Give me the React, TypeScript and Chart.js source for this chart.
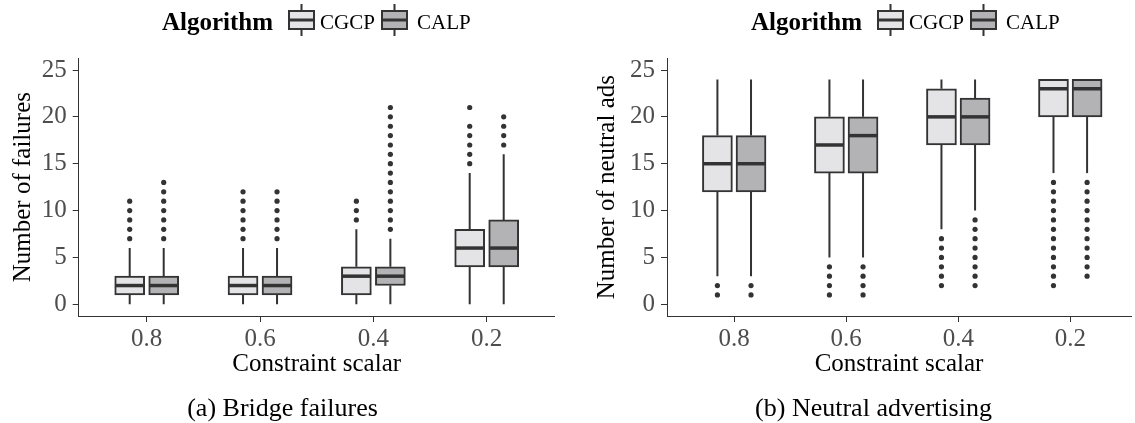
import React, { useEffect, useRef } from 'react';
import { Chart, registerables } from 'chart.js';

Chart.register(...registerables);

// ---------- data ----------
const categories = ['0.8', '0.6', '0.4', '0.2'];
const seriesNames = ['CGCP', 'CALP'];
const yTickValues = [0, 5, 10, 15, 20, 25];

// (a) Bridge failures — CGCP
const failCgcpLow = [0, 0, 0, 0];
const failCgcpQ1 = [1, 1, 1, 4];
const failCgcpMed = [2, 2, 3, 6];
const failCgcpQ3 = [3, 3, 4, 8];
const failCgcpHigh = [6, 6, 8, 14];
const failCgcpOut = [
  [7, 8, 9, 10, 11],
  [7, 8, 9, 10, 11, 12],
  [9, 10, 11],
  [15, 16, 17, 18, 19, 21],
];
// (a) Bridge failures — CALP
const failCalpLow = [0, 0, 0, 0];
const failCalpQ1 = [1, 1, 2, 4];
const failCalpMed = [2, 2, 3, 6];
const failCalpQ3 = [3, 3, 4, 9];
const failCalpHigh = [6, 6, 7, 16];
const failCalpOut = [
  [7, 8, 9, 10, 11, 12, 13],
  [7, 8, 9, 10, 11, 12],
  [8, 9, 10, 11, 12, 13, 14, 15, 16, 17, 18, 19, 20, 21],
  [17, 18, 19, 20],
];

// (b) Neutral advertising — CGCP
const adsCgcpLow = [3, 5, 8, 14];
const adsCgcpQ1 = [12, 14, 17, 20];
const adsCgcpMed = [15, 17, 20, 23];
const adsCgcpQ3 = [18, 20, 23, 24];
const adsCgcpHigh = [24, 24, 24, 24];
const adsCgcpOut = [
  [1, 2],
  [1, 2, 3, 4],
  [2, 3, 4, 5, 6, 7],
  [2, 3, 4, 5, 6, 7, 8, 9, 10, 11, 12, 13],
];
// (b) Neutral advertising — CALP
const adsCalpLow = [3, 5, 10, 14];
const adsCalpQ1 = [12, 14, 17, 20];
const adsCalpMed = [15, 18, 20, 23];
const adsCalpQ3 = [18, 20, 22, 24];
const adsCalpHigh = [24, 24, 24, 24];
const adsCalpOut = [
  [1, 2],
  [1, 2, 3, 4],
  [2, 3, 4, 5, 6, 7, 8, 9],
  [3, 4, 5, 6, 7, 8, 9, 10, 11, 12, 13],
];

// ---------- styling ----------
const FONT = "'Liberation Serif', 'Times New Roman', serif";
const FILLS = ['#e4e4e6', '#b3b3b5'];
const DARK = '#333333';
const OFFSETS = [-0.15, 0.15];
const BOX_W = 30;

type Stats = { low: number[]; q1: number[]; med: number[]; q3: number[]; high: number[]; out: number[][] };

type PanelOpts = {
  yTitle: string;
  caption: string;
  stats: Stats[];
  yAxisWidth: number;
  rightPad: number;
  xMax: number;
  yTitlePad: number;
  legendX: number;
  captionX: number;
};

function makeChart(canvas: HTMLCanvasElement, p: PanelOpts) {
  const datasets: any[] = [];
  p.stats.forEach((s, k) => {
    datasets.push({
      type: 'bar',
      label: seriesNames[k],
      data: categories.map((_, i) => ({ x: i + OFFSETS[k], y: [s.q1[i], s.q3[i]] })),
      backgroundColor: FILLS[k],
      borderColor: DARK,
      borderWidth: 2,
      borderSkipped: false,
      barThickness: BOX_W,
      grouped: false,
      order: 2,
    });
    datasets.push({
      type: 'scatter',
      label: seriesNames[k] + ' outliers',
      data: s.out.flatMap((arr, i) => arr.map((v) => ({ x: i + OFFSETS[k], y: v }))),
      pointRadius: 2.6,
      pointBackgroundColor: DARK,
      pointBorderWidth: 0,
      showLine: false,
      order: 1,
    });
  });

  const boxParts = {
    id: 'boxParts',
    beforeDatasetsDraw(chart: any) {
      const { ctx, scales } = chart;
      const xs = scales.x, ys = scales.y;
      ctx.save();
      ctx.strokeStyle = DARK;
      ctx.lineWidth = 2;
      p.stats.forEach((s, k) => {
        categories.forEach((_, i) => {
          const x = xs.getPixelForValue(i + OFFSETS[k]);
          ctx.beginPath();
          if (s.low[i] < s.q1[i]) {
            ctx.moveTo(x, ys.getPixelForValue(s.low[i]));
            ctx.lineTo(x, ys.getPixelForValue(s.q1[i]));
          }
          if (s.high[i] > s.q3[i]) {
            ctx.moveTo(x, ys.getPixelForValue(s.q3[i]));
            ctx.lineTo(x, ys.getPixelForValue(s.high[i]));
          }
          ctx.stroke();
        });
      });
      ctx.restore();
    },
    afterDatasetsDraw(chart: any) {
      const { ctx, scales } = chart;
      const xs = scales.x, ys = scales.y;
      ctx.save();
      ctx.strokeStyle = DARK;
      ctx.lineWidth = 3.5;
      p.stats.forEach((s, k) => {
        categories.forEach((_, i) => {
          const x = xs.getPixelForValue(i + OFFSETS[k]);
          const y = ys.getPixelForValue(s.med[i]);
          ctx.beginPath();
          ctx.moveTo(x - BOX_W / 2 + 1, y);
          ctx.lineTo(x + BOX_W / 2 - 1, y);
          ctx.stroke();
        });
      });
      ctx.restore();
    },
    afterDraw(chart: any) {
      const { ctx } = chart;
      ctx.save();
      // legend
      const x0 = p.legendX;
      ctx.fillStyle = '#000';
      ctx.textBaseline = 'alphabetic';
      ctx.textAlign = 'left';
      ctx.font = `bold 25px ${FONT}`;
      ctx.fillText('Algorithm', x0, 30);
      const iconXs = [x0 + 126, x0 + 219];
      const labelXs = [x0 + 158, x0 + 255];
      seriesNames.forEach((name, k) => {
        const ix = iconXs[k];
        const w = 27;
        const cx = ix + w / 2;
        ctx.strokeStyle = DARK;
        ctx.lineWidth = 2;
        ctx.beginPath();
        ctx.moveTo(cx, 4);
        ctx.lineTo(cx, 10);
        ctx.moveTo(cx, 30);
        ctx.lineTo(cx, 36);
        ctx.stroke();
        ctx.fillStyle = FILLS[k];
        ctx.fillRect(ix, 10, w, 20);
        ctx.strokeRect(ix + 1, 11, w - 2, 18);
        ctx.lineWidth = 3;
        ctx.beginPath();
        ctx.moveTo(ix + 1, 20);
        ctx.lineTo(ix + w - 1, 20);
        ctx.stroke();
        ctx.fillStyle = '#000';
        ctx.font = `21px ${FONT}`;
        ctx.fillText(name, labelXs[k], 29);
      });
      // caption
      ctx.font = `26px ${FONT}`;
      ctx.textAlign = 'center';
      ctx.fillStyle = '#000';
      ctx.fillText(p.caption, p.captionX, 416);
      ctx.restore();
    },
  };

  return new Chart(canvas, {
    type: 'bar',
    data: { datasets },
    plugins: [boxParts],
    options: {
      animation: false,
      responsive: false,
      devicePixelRatio: 1,
      layout: { padding: { left: 0, right: p.rightPad, top: 58.3, bottom: 0 } },
      plugins: { legend: { display: false }, tooltip: { enabled: false } },
      scales: {
        x: {
          type: 'linear',
          offset: false,
          min: -0.6,
          max: p.xMax,
          afterBuildTicks: (s: any) => {
            s.ticks = categories.map((_, i) => ({ value: i }));
          },
          afterFit: (s: any) => {
            s.height = 107;
          },
          ticks: {
            callback: (v: any) => categories[v] ?? '',
            font: { family: FONT, size: 25 },
            color: '#4d4d4d',
            padding: 2,
            maxRotation: 0,
            autoSkip: false,
          },
          grid: { offset: false, drawOnChartArea: false, drawTicks: true, tickLength: 6, color: DARK, lineWidth: 1 },
          border: { display: true, color: DARK, width: 1 },
          title: {
            display: true,
            text: 'Constraint scalar',
            font: { family: FONT, size: 25 },
            color: '#000',
            padding: { top: 0, bottom: 44 },
          },
        },
        y: {
          type: 'linear',
          min: -1.25,
          max: 26.25,
          afterBuildTicks: (s: any) => {
            s.ticks = yTickValues.map((v) => ({ value: v }));
          },
          afterFit: (s: any) => {
            s.width = p.yAxisWidth;
          },
          ticks: { font: { family: FONT, size: 25 }, color: '#4d4d4d', padding: 6 },
          grid: { drawOnChartArea: false, drawTicks: true, tickLength: 6, color: DARK, lineWidth: 1 },
          border: { display: true, color: DARK, width: 1 },
          title: {
            display: true,
            text: p.yTitle,
            font: { family: FONT, size: 25 },
            color: '#000',
            padding: { top: p.yTitlePad, bottom: 0 },
          },
        },
      },
    } as any,
  });
}

const failStats: Stats[] = [
  { low: failCgcpLow, q1: failCgcpQ1, med: failCgcpMed, q3: failCgcpQ3, high: failCgcpHigh, out: failCgcpOut },
  { low: failCalpLow, q1: failCalpQ1, med: failCalpMed, q3: failCalpQ3, high: failCalpHigh, out: failCalpOut },
];
const adsStats: Stats[] = [
  { low: adsCgcpLow, q1: adsCgcpQ1, med: adsCgcpMed, q3: adsCgcpQ3, high: adsCgcpHigh, out: adsCgcpOut },
  { low: adsCalpLow, q1: adsCalpQ1, med: adsCalpMed, q3: adsCalpQ3, high: adsCalpHigh, out: adsCalpOut },
];

export default function App() {
  const leftRef = useRef<HTMLCanvasElement>(null);
  const rightRef = useRef<HTMLCanvasElement>(null);

  useEffect(() => {
    const a = makeChart(leftRef.current!, {
      yTitle: 'Number of failures',
      caption: '(a) Bridge failures',
      stats: failStats,
      yAxisWidth: 78.7,
      rightPad: 12.3,
      xMax: 3.6,
      yTitlePad: 8.3,
      legendX: 162,
      captionX: 282.5,
    });
    const b = makeChart(rightRef.current!, {
      yTitle: 'Number of neutral ads',
      caption: '(b) Neutral advertising',
      stats: adsStats,
      yAxisWidth: 100,
      rightPad: 0,
      xMax: 3.542,
      yTitlePad: 25.5,
      legendX: 184,
      captionX: 306.5,
    });
    return () => {
      a.destroy();
      b.destroy();
    };
  }, []);

  return (
    <div style={{ position: 'absolute', left: 0, top: 0, width: 1135, height: 423, background: '#fff' }}>
      <canvas ref={leftRef} width={567} height={423} style={{ position: 'absolute', left: 0, top: 0 }} />
      <canvas ref={rightRef} width={568} height={423} style={{ position: 'absolute', left: 567, top: 0 }} />
    </div>
  );
}
